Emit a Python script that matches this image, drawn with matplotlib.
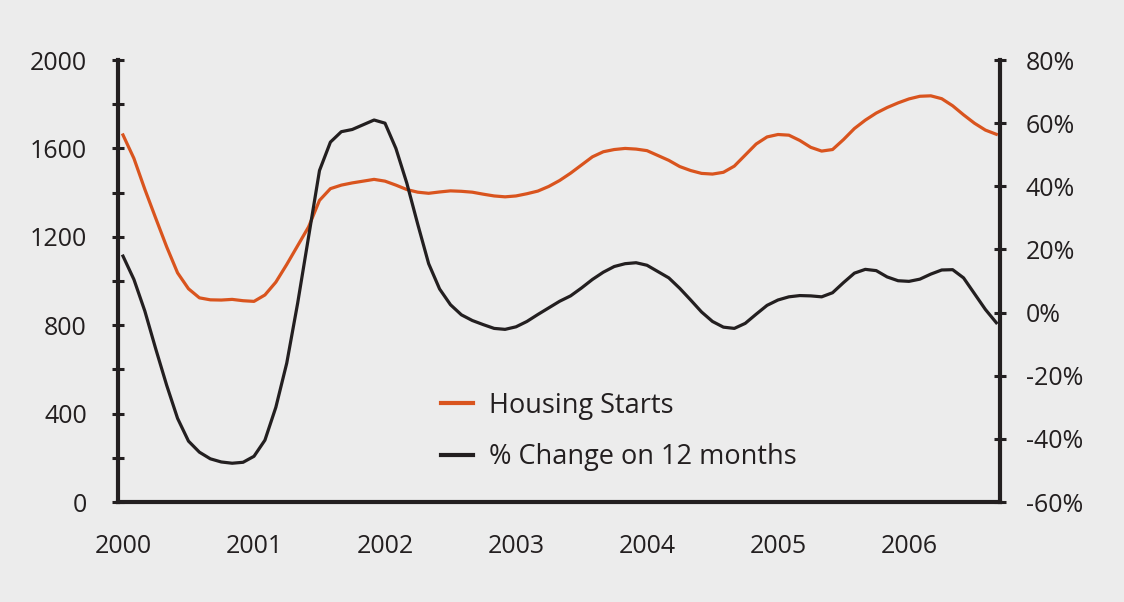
from matplotlib import pyplot as plt
from matplotlib.ticker import FixedLocator
import numpy as np

plt.rcParams['font.family'] = ['Open Sans', 'DejaVu Sans']

# Monthly data, Jan 2000 to Sep 2006
housing_starts = [1661, 1555, 1415, 1284, 1155, 1037, 965, 924, 915, 914,
                  917, 911, 908, 937, 995, 1075, 1160, 1245, 1365, 1418,
                  1434, 1444, 1452, 1460, 1452, 1434, 1414, 1402, 1397, 1403,
                  1408, 1406, 1402, 1393, 1385, 1381, 1385, 1395, 1407, 1428,
                  1455, 1488, 1525, 1562, 1585, 1595, 1600, 1597, 1590, 1568,
                  1546, 1518, 1500, 1487, 1484, 1492, 1520, 1570, 1620, 1652,
                  1663, 1660, 1636, 1605, 1588, 1595, 1640, 1690, 1728, 1760,
                  1785, 1806, 1824, 1836, 1838, 1825, 1793, 1752, 1714, 1683,
                  1664]
pct_change = [17.9, 10.5, 0.5, -11.5, -23, -33.5, -40.7, -44.2, -46.3, -47.3,
              -47.7, -47.4, -45.5, -40.4, -30, -16, 3, 24, 45, 54,
              57.3, 58, 59.5, 61, 60, 52, 41, 28, 15.5, 7.5,
              2.5, -0.7, -2.5, -3.8, -5, -5.3, -4.5, -2.8, -0.6, 1.5,
              3.6, 5.3, 7.8, 10.5, 12.8, 14.6, 15.5, 15.8, 15.0, 13,
              11, 7.7, 4, 0.2, -2.8, -4.6, -5, -3.4, -0.5, 2.3,
              4, 5, 5.4, 5.3, 5, 6.3, 9.5, 12.5, 13.7, 13.3,
              11.3, 10.1, 9.9, 10.6, 12.2, 13.5, 13.6, 11, 6, 1,
              -3.2]
years = [2000, 2001, 2002, 2003, 2004, 2005, 2006]
right_ticks = [-60, -40, -20, 0, 20, 40, 60, 80]

t = 2000 + np.arange(len(housing_starts)) / 12.0

bg = '#ececec'
dark = '#231f20'
orange = '#d9541e'

fig = plt.figure(figsize=(11.24, 6.02), dpi=100, facecolor=bg)
ax = fig.add_axes([0.105, 0.166, 0.7847, 0.7343], facecolor=bg)
ax2 = ax.twinx()

l1, = ax.plot(t, housing_starts, color=orange, lw=2.3, label='Housing Starts')
l2, = ax2.plot(t, pct_change, color=dark, lw=2.3, label='% Change on 12 months')

ax.set_xlim(1999.962, 2006.695)
ax.set_ylim(0, 2000)
ax2.set_ylim(-60, 80)

ax.set_xticks(years)
ax.set_xticklabels([str(y) for y in years])
ax.tick_params(axis='x', length=0, pad=23, labelsize=18, labelcolor=dark)

ax.yaxis.set_major_locator(FixedLocator(np.arange(0, 2001, 200)))
ax.set_yticklabels([str(v) if v % 400 == 0 else '' for v in range(0, 2001, 200)])
ax.tick_params(axis='y', direction='inout', length=9, width=2.2, color=dark,
               pad=18, labelsize=18, labelcolor=dark)

ax2.set_yticks(right_ticks)
ax2.set_yticklabels(['%d%%' % v for v in right_ticks])
ax2.tick_params(axis='y', direction='inout', length=9, width=2.2, color=dark,
                pad=14, labelsize=18, labelcolor=dark)

for a in (ax, ax2):
    for side in ('top', 'left', 'right', 'bottom'):
        a.spines[side].set_visible(False)
ax.spines['left'].set_visible(True)
ax.spines['bottom'].set_visible(True)
ax2.spines['right'].set_visible(True)
for sp in (ax.spines['left'], ax.spines['bottom'], ax2.spines['right']):
    sp.set_linewidth(3)
    sp.set_color(dark)
    sp.set_capstyle('projecting')

leg = fig.legend([l1, l2], ['Housing Starts', '% Change on 12 months'],
                 loc='upper left', bbox_to_anchor=(0.371, 0.390),
                 frameon=False, fontsize=19.5, handlelength=1.15,
                 handletextpad=0.62, labelspacing=0.88)
for txt in leg.get_texts():
    txt.set_color(dark)
for line in leg.get_lines():
    line.set_linewidth(3)

fig.savefig('out.png', dpi=100, facecolor=bg)
